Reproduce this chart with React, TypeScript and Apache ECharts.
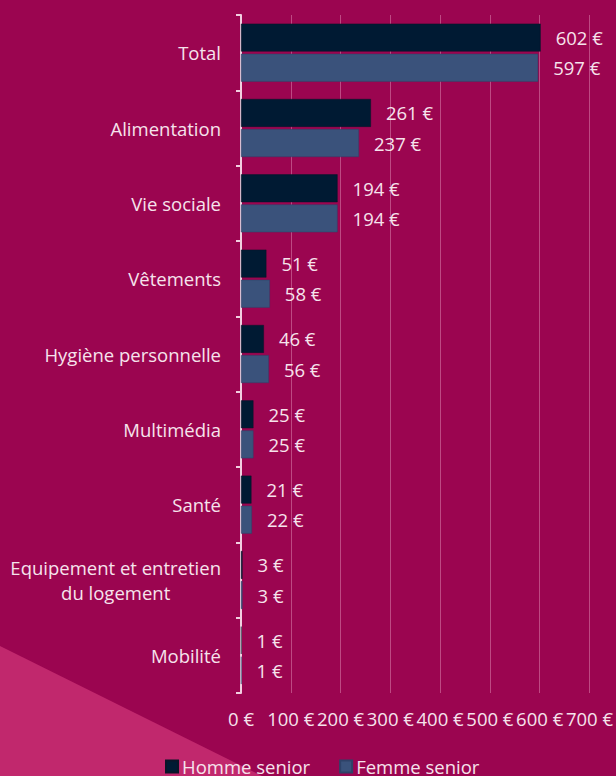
import React, { useEffect, useRef } from "react";
import * as echarts from "echarts";

const categories = [
  "Total",
  "Alimentation",
  "Vie sociale",
  "Vêtements",
  "Hygiène personnelle",
  "Multimédia",
  "Santé",
  "Equipement et entretien\ndu logement",
  "Mobilité",
];
const homme = [602, 261, 194, 51, 46, 25, 21, 3, 1];
const femme = [597, 237, 194, 58, 56, 25, 22, 3, 1];
const seriesNames = ["Homme senior", "Femme senior"];

const TXT = "#F6E3EC";
const FONT = "'Open Sans', 'Noto Sans', sans-serif";
const FS = 18.5;

export default function App() {
  const ref = useRef<HTMLDivElement>(null);
  useEffect(() => {
    if (!ref.current) return;
    const chart = echarts.init(ref.current, undefined, { renderer: "svg" });
    const labelCfg = {
      show: true,
      position: "right",
      distance: 15,
      color: TXT,
      fontSize: FS,
      fontFamily: FONT,
      formatter: (p: any) => `${p.value} €`,
    };
    chart.setOption({
      animation: false,
      backgroundColor: "#9B0550",
      textStyle: { fontFamily: FONT },
      graphic: [
        {
          type: "polygon",
          z: -10,
          silent: true,
          shape: { points: [[0, 646], [0, 776], [262, 776]] },
          style: { fill: "#C1286D" },
        },
      ],
      grid: { left: 241, right: 26, top: 15, bottom: 83, containLabel: false },
      legend: {
        data: seriesNames,
        top: 757,
        left: 165,
        icon: "rect",
        itemWidth: 12,
        itemHeight: 12,
        itemGap: 29,
        padding: [0, 0, 0, 0],
        textStyle: { color: TXT, fontSize: FS, fontFamily: FONT, padding: [0, 0, 0, -1] },
      },
      xAxis: {
        type: "value",
        min: 0,
        max: 700,
        interval: 100,
        axisLine: { show: false },
        axisTick: { show: false },
        splitLine: { show: true, lineStyle: { color: "rgba(255,200,225,0.35)", width: 1 } },
        axisLabel: {
          color: TXT,
          fontSize: FS,
          fontFamily: FONT,
          margin: 16,
          formatter: (v: number) => `${v} €`,
        },
      },
      yAxis: {
        type: "category",
        inverse: true,
        data: categories,
        axisLine: { show: true, lineStyle: { color: "#F1CFE0", width: 2 } },
        axisTick: { show: true, length: 5, lineStyle: { color: "#F1CFE0", width: 2 } },
        axisLabel: {
          color: TXT,
          fontSize: FS,
          fontFamily: FONT,
          margin: 20,
          formatter: (v: string) =>
            v.split("\n").map((s) => `{c|${s}}`).join("\n"),
          rich: { c: { color: TXT, fontSize: FS, fontFamily: FONT, align: "center", lineHeight: 25 } },
        },
      },
      series: [
        {
          name: seriesNames[0],
          type: "bar",
          data: homme,
          barCategoryGap: "23%",
          barGap: "8%",
          itemStyle: { color: "#001A33", borderColor: "#0A1428", borderWidth: 0.5 },
          label: labelCfg,
        },
        {
          name: seriesNames[1],
          type: "bar",
          data: femme,
          barCategoryGap: "23%",
          barGap: "8%",
          itemStyle: { color: "#3A527B", borderColor: "#2E4268", borderWidth: 0.5 },
          label: labelCfg,
        },
      ],
    });
    return () => chart.dispose();
  }, []);
  return (
    <div
      ref={ref}
      style={{ position: "fixed", left: 0, top: 0, width: 616, height: 776 }}
    />
  );
}
